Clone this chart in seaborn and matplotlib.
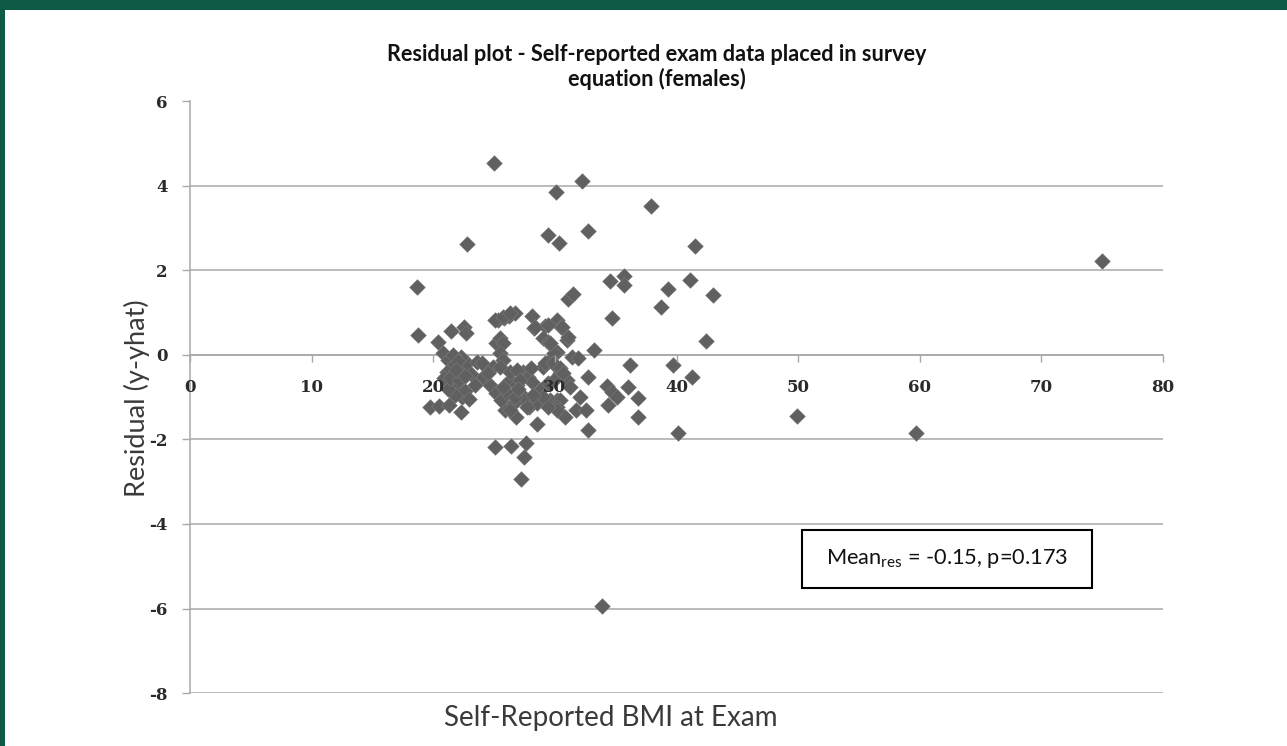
import matplotlib
matplotlib.use("Agg")
import matplotlib.pyplot as plt
import seaborn as sns
import pandas as pd
from matplotlib.patches import Rectangle

# ---- data ----
bmi = [
    25.0, 30.1, 32.2, 37.9, 22.8, 29.4, 30.3, 32.7, 41.5, 18.7,
    34.5, 35.7, 35.7, 39.3, 41.1, 43.0, 38.7, 31.1, 31.5, 34.7,
    18.75, 20.4, 21.5, 22.5, 22.7, 25.3, 25.8, 26.2, 26.7, 28.1,
    28.3, 29.2, 30.2, 30.5, 31.0, 29.0, 29.4, 42.4, 33.2, 30.2,
    31.4, 31.9, 36.2, 39.7, 41.3, 32.7, 34.3, 34.7, 35.1, 36.0,
    36.8, 36.8, 34.4, 32.1, 31.7, 32.6, 30.8, 32.7, 40.1, 25.1,
    26.4, 27.6, 27.5, 27.2, 28.5, 26.8, 25.9, 19.7, 20.5, 21.3,
    22.3, 22.4, 33.9, 49.9, 59.7, 75.0,
    20.8, 21.2, 21.6, 21.1, 21.7, 22.2, 22.4, 21.5, 22.0, 22.6,
    21.8, 22.8, 23.1, 22.3, 20.9, 21.2, 22.9, 23.4, 21.6, 22.0,
    25.2, 25.5, 25.7, 25.5, 25.7, 24.1, 24.7, 25.2, 25.6, 26.3,
    26.9, 27.4, 27.8, 28.1, 27.1, 27.5, 27.9, 28.5, 26.6, 26.1,
    28.8, 29.4, 29.0, 29.6, 29.9, 30.2, 30.4, 29.9, 31.0, 31.25,
    30.2, 29.6, 29.0, 23.6, 24.0, 24.9, 25.5, 24.5, 26.3, 26.9,
    27.1, 25.7, 26.7, 26.3, 29.2, 29.85, 30.4, 30.7, 30.4, 30.2,
    28.4, 29.4, 30.6, 31.1, 29.6, 27.7, 30.2, 29.4, 25.1, 25.7,
    26.3, 28.2, 27.0, 28.0, 21.4, 22.1, 21.9, 22.6,
]
resid = [
    4.55, 3.86, 4.12, 3.52, 2.62, 2.84, 2.64, 2.93, 2.58, 1.62,
    1.74, 1.86, 1.66, 1.56, 1.77, 1.42, 1.13, 1.33, 1.44, 0.88,
    0.47, 0.31, 0.56, 0.66, 0.52, 0.83, 0.87, 0.92, 1.00, 0.92,
    0.65, 0.69, 0.82, 0.66, 0.36, 0.41, 0.30, 0.33, 0.12, 0.07,
    -0.05, -0.07, -0.24, -0.24, -0.52, -0.52, -0.74, -0.88, -1.00, -0.76,
    -1.02, -1.47, -1.18, -0.99, -1.30, -1.30, -1.46, -1.78, -1.85, -2.17,
    -2.15, -2.08, -2.41, -2.94, -1.63, -1.47, -1.30, -1.23, -1.20, -1.18,
    -1.34, -0.99, -5.95, -1.45, -1.85, 2.22,
    0.05, -0.12, -0.25, -0.40, -0.45, -0.30, -0.55, -0.65, -0.75, -0.85,
    -0.95, -0.20, -0.45, -0.05, -0.55, -0.80, -1.05, -0.70, 0.00, -0.15,
    0.28, 0.40, 0.28, 0.05, -0.12, -0.52, -0.71, -0.90, -1.07, -0.59,
    -0.71, -0.40, -0.52, -0.64, -0.90, -1.07, -1.23, -1.14, -1.14, -0.90,
    -0.83, -0.66, -0.28, -0.12, 0.05, -0.28, -0.43, -0.59, -0.59, -0.76,
    -1.07, -1.07, -0.99, -0.17, -0.19, -0.28, -0.28, -0.43, -0.40, -0.35,
    -0.59, -0.76, -0.99, -1.30, -0.19, -0.19, -0.31, -0.43, -1.07, -1.23,
    0.66, 0.71, 0.66, 0.43, 0.28, -1.23, -1.30, -1.23, 0.83, 0.90,
    0.99, -0.95, -0.80, -0.30, -0.55, -0.60, -0.35, -0.50,
]

x_ticks = [0, 10, 20, 30, 40, 50, 60, 70, 80]
y_ticks = [-8, -6, -4, -2, 0, 2, 4, 6]
title_text = "Residual plot - Self-reported exam data placed in survey\nequation (females)"
x_label = "Self-Reported BMI at Exam"
y_label = "Residual (y-yhat)"
note_text = r"Mean$_{\mathregular{res}}$ = -0.15, p=0.173"

df = pd.DataFrame({"bmi": bmi[:len(resid)], "resid": resid[:len(bmi)]})

sns.set_style("white")
plt.rcParams["font.family"] = ["Lato", "DejaVu Sans"]

W, H = 1287, 746
fig = plt.figure(figsize=(W / 100, H / 100), dpi=100)
ax = fig.add_axes([190 / W, 1 - 693 / H, (1163 - 190) / W, (693 - 101.5) / H])

grid_c = "#a8a8a8"
sns.scatterplot(data=df, x="bmi", y="resid", marker="D", s=64,
                color="#606060", edgecolor="#7c7c7c", linewidth=0.4,
                ax=ax, zorder=3)

ax.set_xlim(0, 80)
ax.set_ylim(-8, 6)
ax.set_xticks(x_ticks)
ax.set_yticks(y_ticks)
ax.set_xticklabels([str(t) for t in x_ticks])
ax.set_yticklabels([str(t) for t in y_ticks])

ax.yaxis.grid(True, color=grid_c, linewidth=1.1)
ax.xaxis.grid(False)
ax.set_axisbelow(True)
ax.xaxis.set_zorder(5)

for s in ["top", "right"]:
    ax.spines[s].set_visible(False)
ax.spines["left"].set_color(grid_c)
ax.spines["left"].set_linewidth(1.1)
ax.spines["bottom"].set_position(("data", 0))
ax.spines["bottom"].set_color(grid_c)
ax.spines["bottom"].set_linewidth(1.1)
ax.spines["bottom"].set_zorder(2)

ax.tick_params(axis="x", direction="out", length=5, width=1.0, color=grid_c,
               pad=12, bottom=True)
ax.tick_params(axis="y", direction="out", length=6, width=1.0, color=grid_c,
               pad=10, left=True)
for lab in ax.get_xticklabels() + ax.get_yticklabels():
    lab.set_fontfamily("DejaVu Serif")
    lab.set_fontweight("bold")
    lab.set_fontsize(12)
    lab.set_color("#2a2a2a")

ax.set_xlabel("")
ax.set_ylabel("")

fig.text(611 / W, 1 - 718 / H, x_label, ha="center", va="center",
         fontsize=20, color="#3a3a3a")
fig.text(137 / W, 1 - 398 / H, y_label, ha="center", va="center",
         rotation=90, fontsize=19.5, color="#3a3a3a")
fig.text(657 / W, 1 - 67 / H, title_text, ha="center", va="center",
         fontsize=15.6, fontweight="bold", color="#111111", linespacing=1.2)

# annotation box
ax.add_patch(Rectangle((50.3, -5.51), 23.9, 1.37, fill=False,
                       edgecolor="black", linewidth=1.5, zorder=4))
ax.text(62.25, -4.82, note_text, ha="center", va="center", fontsize=15.7,
        color="#111111", zorder=5)

# green frame of the source figure
green = "#0e5a47"
fig.patches.append(Rectangle((0, 1 - 10 / H), 1, 10 / H, transform=fig.transFigure,
                             facecolor=green, edgecolor="none"))
fig.patches.append(Rectangle((0, 0), 5 / W, 1, transform=fig.transFigure,
                             facecolor=green, edgecolor="none"))

fig.savefig("out.png", dpi=100)
